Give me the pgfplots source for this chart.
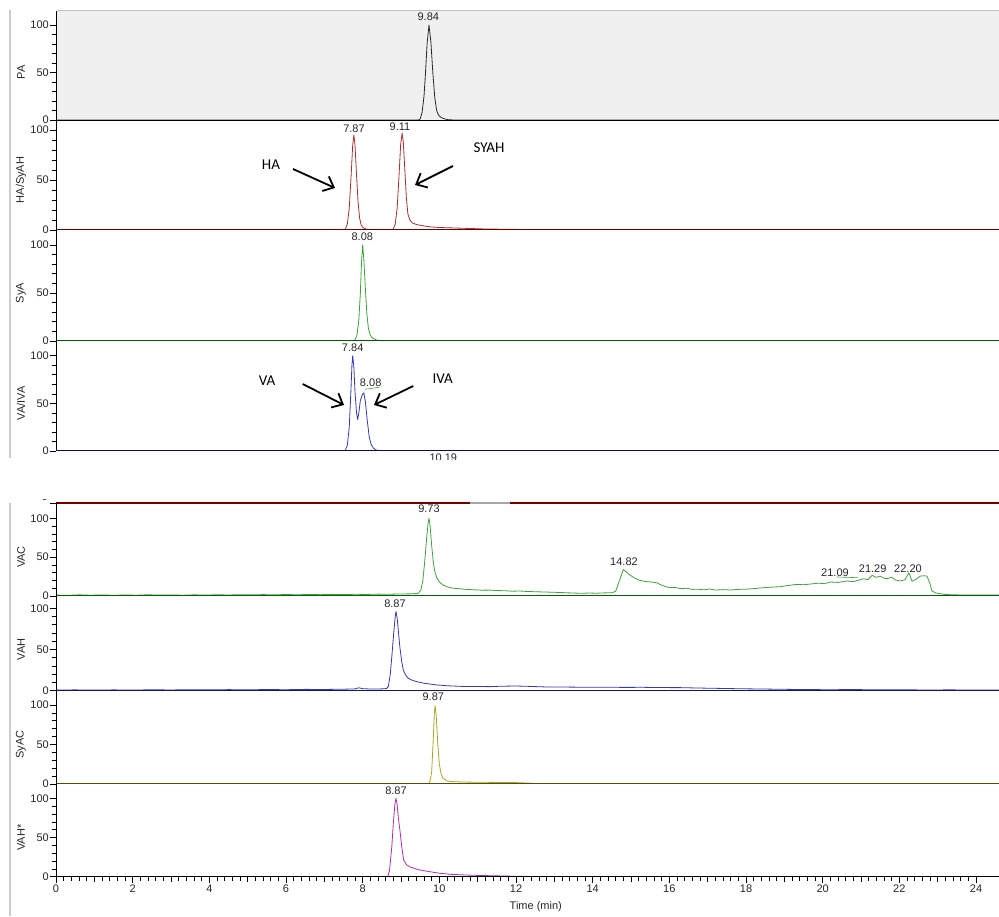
\documentclass[border=0pt]{standalone}
\usepackage{pgfplots}
\pgfplotsset{compat=1.18}
\usepackage{fontspec}
\setmainfont{Liberation Sans}
\newfontfamily\calib{Carlito}
\usetikzlibrary{arrows.meta}

\definecolor{pacol}{RGB}{40,40,40}
\definecolor{hacol}{RGB}{175,45,45}
\definecolor{habase}{RGB}{115,0,0}
\definecolor{syacol}{RGB}{55,165,55}
\definecolor{syabase}{RGB}{0,90,0}
\definecolor{vacol}{RGB}{55,55,185}
\definecolor{vabase}{RGB}{10,10,110}
\definecolor{vaccol}{RGB}{65,160,65}
\definecolor{vacbase}{RGB}{0,100,0}
\definecolor{vahcol}{RGB}{55,55,175}
\definecolor{vahbase}{RGB}{20,20,120}
\definecolor{syaccol}{RGB}{165,165,35}
\definecolor{syacbase}{RGB}{80,80,0}
\definecolor{vahscol}{RGB}{175,45,175}
\definecolor{vahsbase}{RGB}{120,0,120}
\definecolor{pabg}{RGB}{240,240,240}

\pgfplotsset{
  panel/.style={
    scale only axis, width=943pt, xmin=0, xmax=24.6, ymin=0,
    anchor=south west,
    axis x line*=bottom, axis y line*=left,
    axis on top,
    ytick={0,50,100}, minor ytick={10,20,30,40,60,70,80,90},
    xtick=\empty,
    tick align=outside, major tick length=6pt, minor tick length=4pt,
    tick style={black, line width=0.6pt},
    y axis line style={black, line width=0.8pt},
    ticklabel style={font=\fontsize{11}{13}\selectfont, text=black!85},
    yticklabel style={inner sep=1pt},
    /pgf/number format/assume math mode=true,
    every axis plot/.append style={line width=0.8pt, line join=round},
  }
}

\begin{document}
\begin{tikzpicture}[x=1pt,y=1pt, font=\fontsize{11}{13}\selectfont]
\useasboundingbox (0,0) rectangle (999,916);

% left window border
\draw[black!20, line width=1.5pt] (10,906) -- (10,458);
\draw[black!20, line width=1.5pt] (10,413) -- (10,0);

% P1 PA
\begin{axis}[panel, at={(56pt,796pt)}, height=109pt, ymax=114.7,
  axis background/.style={fill=pabg},
  x axis line style={black, line width=0.9pt}]
\addplot[pacol] coordinates {(0,0)(9.45,0)(9.5,1)(9.55,8)(9.6,25)(9.64,50)(9.68,80)(9.73,100)(9.78,82)(9.83,50)(9.88,24)(9.93,10)(9.98,5)(10.05,2.5)(10.15,1)(10.25,0.2)(10.4,0)(24.6,0)};
\end{axis}
\draw[black!25, line width=1pt] (57,905) -- (999,905);

% P2 HA/SyAH
\begin{axis}[panel, at={(56pt,686pt)}, height=110pt, ymax=110,
  x axis line style={habase, line width=1pt}]
\addplot[hacol] coordinates {(0,0)(7.5,0)(7.55,1)(7.6,6)(7.65,22)(7.7,55)(7.74,85)(7.77,95)(7.8,85)(7.84,55)(7.88,28)(7.92,12)(7.96,5)(8.02,2)(8.1,0.8)(8.2,0.3)(8.4,0)(8.75,0)(8.8,1)(8.85,6)(8.9,22)(8.95,55)(8.99,85)(9.03,97)(9.06,88)(9.1,60)(9.14,32)(9.18,16)(9.23,10)(9.3,7)(9.4,5.5)(9.6,4)(9.8,3)(10.0,2.5)(10.4,2)(10.8,1.5)(11.2,1)(11.6,0.8)(12.0,0.6)(12.4,0.3)(12.8,0.1)(13.2,0)(24.6,0)};
\end{axis}

% P3 SyA
\begin{axis}[panel, at={(56pt,575pt)}, height=111pt, ymax=115.6,
  x axis line style={syabase, line width=1pt}]
\addplot[syacol] coordinates {(0,0)(7.75,0)(7.8,1)(7.85,6)(7.9,22)(7.94,50)(7.97,82)(8.0,100)(8.03,85)(8.07,55)(8.11,28)(8.15,13)(8.2,6)(8.26,3)(8.35,1.2)(8.45,0.3)(8.6,0)(24.6,0)};
\end{axis}

% P4 VA/IVA
\begin{axis}[panel, at={(56pt,465pt)}, height=110pt, ymax=115.4,
  x axis line style={vabase, line width=1pt}]
\addplot[vacol] coordinates {(0,0)(0.4,0.6)(0.8,0)(1.3,0.5)(1.8,0)(2.4,0.6)(3.0,0)(3.6,0.5)(4.2,0)(4.9,0.6)(5.5,0)(6.2,0.5)(6.8,0)(7.5,0)(7.55,1)(7.6,6)(7.65,25)(7.69,60)(7.72,90)(7.74,100)(7.77,88)(7.8,62)(7.84,40)(7.87,33)(7.9,40)(7.94,53)(7.99,59)(8.03,61)(8.07,52)(8.12,32)(8.17,15)(8.22,7)(8.28,3)(8.35,1)(8.45,0.3)(8.6,0)(9.3,0.4)(10.0,0)(10.7,0.5)(11.4,0)(12.2,0.5)(13.0,0)(13.8,0.6)(14.6,0)(15.4,0.5)(16.2,0)(17.0,0.5)(17.8,0)(18.6,0.6)(19.4,0)(20.2,0.5)(21.0,0)(21.8,0.5)(22.6,0)(23.4,0.5)(24.6,0)};
\end{axis}
\draw[syacol, line width=0.6pt] (365,526.7) -- (379.3,528.7);
\begin{scope}
\clip (300,456) rectangle (600,470);
\node[text=black!85] at (443.3,458) {10.19};
\end{scope}

% remnant of hidden panel
\begin{scope}
\clip (30,411.5) rectangle (56,416);
\node[text=black!85, anchor=east, inner sep=1pt] at (49,419) {0};
\end{scope}
\draw[black, line width=0.6pt] (50,413) -- (56,413);
\draw[habase, line width=1.2pt] (56,413) -- (470,413);
\draw[black!35, line width=1.2pt] (470,413) -- (510,413);
\draw[habase, line width=1.2pt] (510,413) -- (999,413);

% P5 VAC
\begin{axis}[panel, at={(56pt,320pt)}, height=93pt, ymax=119.7,
  x axis line style={vacbase, line width=1pt}]
\addplot[vaccol] coordinates {(0,1.2)(0.3,0.8)(0.6,1.5)(0.9,1.0)(1.2,1.4)(1.5,0.9)(1.8,1.3)(2.1,1.0)(2.4,1.6)(2.7,1.1)(3.0,1.4)(3.3,1.0)(3.6,1.5)(3.9,1.2)(4.2,1.6)(4.5,1.3)(4.8,1.7)(5.1,1.4)(5.4,1.8)(5.7,1.5)(6.0,1.9)(6.3,1.6)(6.6,2.0)(6.9,1.7)(7.2,2.1)(7.5,1.8)(7.8,2.2)(8.1,2.0)(8.4,2.4)(8.7,2.3)(9.0,2.6)(9.3,2.8)(9.45,3.5)(9.52,8)(9.57,20)(9.62,45)(9.67,75)(9.71,95)(9.73,100)(9.76,90)(9.8,65)(9.84,45)(9.88,32)(9.93,24)(10.0,18)(10.1,14)(10.2,12)(10.35,10)(10.5,9.5)(10.7,8.5)(10.9,8)(11.1,7.5)(11.3,7.6)(11.5,7)(11.7,6.8)(11.9,6.2)(12.1,6.4)(12.3,5.8)(12.5,5.5)(12.7,5.2)(12.9,4.9)(13.1,4.6)(13.3,4.2)(13.5,3.8)(13.7,3.5)(13.9,3.8)(14.1,3.6)(14.3,4)(14.5,4.2)(14.6,6)(14.7,20)(14.8,34)(14.88,31)(14.97,27)(15.1,23)(15.23,20)(15.4,18.5)(15.55,18)(15.67,17)(15.8,14)(15.9,12)(16.02,10.7)(16.15,11)(16.3,9.5)(16.45,10)(16.6,8.5)(16.72,8.8)(16.9,8)(17.05,9)(17.2,7.6)(17.4,8.2)(17.59,7.7)(17.8,8.5)(18.0,8.8)(18.2,9.5)(18.46,10.7)(18.7,11.5)(18.9,12)(19.1,13.5)(19.33,15)(19.5,14.5)(19.7,15.5)(19.9,16.5)(20.05,15.8)(20.2,18)(20.4,17.5)(20.64,19.3)(20.8,18.5)(20.95,20.5)(21.07,22.3)(21.18,21)(21.29,26.6)(21.4,24)(21.5,25.5)(21.6,23)(21.68,22.3)(21.8,24)(21.9,20.5)(22.03,19.3)(22.15,21)(22.25,30)(22.33,19)(22.45,22)(22.55,25.7)(22.65,26)(22.72,25.7)(22.8,16)(22.85,6.4)(22.95,4)(23.16,2.1)(23.4,1.5)(23.7,1.3)(24.0,1.4)(24.3,1.2)(24.6,1.3)};
\end{axis}
\draw[vaccol, line width=0.6pt] (837,339) -- (858,338.3);

% P6 VAH
\begin{axis}[panel, at={(56pt,225.3pt)}, height=94.7pt, ymax=114.9,
  x axis line style={vahbase, line width=1pt}]
\addplot[vahcol] coordinates {(0,0.8)(0.5,1.0)(1,0.7)(1.5,1.0)(2,0.8)(2.5,1.1)(3,0.9)(3.5,1.2)(4,1.0)(4.5,1.3)(5,1.1)(5.5,1.4)(6,1.2)(6.5,1.6)(7,1.5)(7.5,1.8)(7.8,2.2)(7.9,3.5)(8.0,2.5)(8.2,2.0)(8.5,2.2)(8.62,2.6)(8.67,5)(8.72,20)(8.76,41)(8.81,70)(8.85,90)(8.87,96)(8.9,88)(8.94,68)(8.97,53)(9.02,35)(9.06,25)(9.12,19)(9.19,15)(9.3,12.5)(9.41,11)(9.6,9)(9.8,7.8)(9.93,7)(10.2,6)(10.5,5.4)(10.7,5)(11,5.2)(11.3,4.9)(11.6,5.4)(12,5.7)(12.3,5.3)(12.8,4.5)(13.3,4.4)(13.8,4.2)(14.3,4.3)(14.8,4.0)(15.3,4.1)(15.8,3.8)(16.3,3.7)(16.8,3.2)(17.3,2.8)(17.8,2.4)(18.3,2.1)(18.8,1.8)(19.3,1.5)(19.8,1.3)(20.3,1.2)(20.8,1.5)(21.3,1.0)(21.8,1.1)(22.3,1.0)(22.8,0.9)(23.3,1.0)(23.8,0.9)(24.6,0.9)};
\end{axis}

% P7 SyAC
\begin{axis}[panel, at={(56pt,132pt)}, height=93.3pt, ymax=118.1,
  x axis line style={syacbase, line width=1pt}]
\addplot[syaccol] coordinates {(0,0)(9.7,0)(9.75,2)(9.8,15)(9.84,55)(9.87,90)(9.89,99)(9.92,85)(9.96,50)(10.0,25)(10.05,12)(10.1,7)(10.2,4)(10.35,3)(10.6,2.5)(11,2.2)(11.5,2)(12,1.8)(12.4,1)(12.6,0.3)(13,0)(24.6,0)};
\end{axis}

% P8 VAH*
\begin{axis}[panel, at={(56pt,39.3pt)}, height=92.7pt, ymax=118.2,
  x axis line style={black, line width=1pt},
  xtick={0,2,...,24}, minor x tick num=9,
  extra x ticks={1,3,5,7,9,11,13,15,17,19,21,23},
  extra x tick labels={},
  extra x tick style={major tick length=5pt},
  xticklabel style={inner sep=2pt}]
\addplot[vahscol] coordinates {(0,0)(8.6,0)(8.66,0.5)(8.7,8)(8.76,38)(8.8,68)(8.84,92)(8.87,100)(8.9,92)(8.93,75)(8.97,60)(9.02,38)(9.07,21)(9.15,15)(9.25,12)(9.33,11)(9.45,9)(9.67,7)(10.02,4.3)(10.3,3)(10.72,2.1)(11.1,1.5)(11.6,1)(12,0.5)(12.5,0.3)(13,0)(24.6,0)};
\end{axis}

% y labels
\foreach \yy/\lab in {843.5/PA, 736/HA\slash SyAH, 623/SyA, 512.7/VA\slash IVA, 359/VAC, 266.5/VAH, 171.5/SyAC, 78.5/VAH*}{
  \node[rotate=90, text=black!85] at (21,\yy) {\lab};
}

% peak labels
\begin{scope}[every node/.style={text=black!85, inner sep=0pt}]
\node at (428.3,899.3) {9.84};
\node at (354,787.7) {7.87};
\node at (400,789.3) {9.11};
\node at (362.3,679.3) {8.08};
\node at (352.7,568.7) {7.84};
\node at (370.7,533.3) {8.08};
\node at (429,407) {9.73};
\node at (624,354.3) {14.82};
\node at (835,343.7) {21.09};
\node at (872.7,347.7) {21.29};
\node at (908,347.7) {22.20};
\node at (395,312) {8.87};
\node at (433.3,219.3) {9.87};
\node at (396,125.3) {8.87};
\node at (535.8,9.3) {Time (min)};
\end{scope}

% annotations
\begin{scope}[every node/.style={font=\calib\fontsize{15}{17}\selectfont, inner sep=0pt}]
\node at (271,751) {HA};
\node at (489,768) {SYAH};
\node at (267,535) {VA};
\node at (442.7,537.7) {IVA};
\end{scope}
\begin{scope}[line width=1.8pt, -{Straight Barb[length=9pt,width=16pt]}]
\draw (293,747) -- (335,728);
\draw (453,750) -- (415,731);
\draw (302.7,532) -- (344,511);
\draw (413.3,530) -- (374,511);
\end{scope}
\end{tikzpicture}
\end{document}
